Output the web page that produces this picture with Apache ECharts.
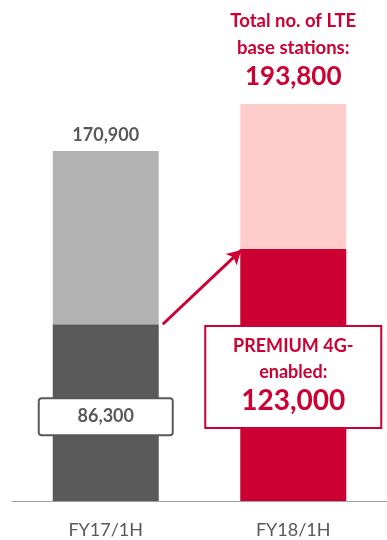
<!DOCTYPE html>
<html><head><meta charset="utf-8">
<script src="https://cdn.jsdelivr.net/npm/echarts@6/dist/echarts.min.js"></script>
<style>html,body{margin:0;padding:0;background:#fff}#c{width:387px;height:540px}</style>
</head><body><div id="c"></div>
<script>
var categories = ['FY17/1H', 'FY18/1H'];
var premiumValues = [86300, 123000];
var totalValues = [170900, 193800];
var remainderValues = totalValues.map(function (t, i) { return t - premiumValues[i]; });

var FONT = 'Lato';
var RED = '#cc0033';
var GRAY_TXT = '#595959';
var BAR_W = 106;

var chart = echarts.init(document.getElementById('c'));
var option = {
  animation: false,
  grid: { left: 12, width: 380, top: 91.4, bottom: 39 },
  xAxis: {
    type: 'category', data: categories,
    axisLine: { lineStyle: { color: '#a0a0a0', width: 1 } },
    axisTick: { show: false },
    axisLabel: { color: GRAY_TXT, fontFamily: FONT, fontSize: 18, margin: 20 }
  },
  yAxis: { type: 'value', min: 0, max: 200000, show: false, splitLine: { show: false } },
  series: [
    {
      name: 'premium', type: 'bar', stack: 's', barWidth: BAR_W,
      data: [
        { value: premiumValues[0], itemStyle: { color: '#5a5a5a' },
          label: { show: true, position: 'inside', offset: [0, 4], formatter: '86,300',
            color: GRAY_TXT, fontFamily: FONT, fontWeight: 'bold', fontSize: 18, lineHeight: 21,
            backgroundColor: '#fff', borderColor: GRAY_TXT, borderWidth: 2, borderRadius: 2,
            width: 132, align: 'center', padding: [7, 0, 7, 0] } },
        { value: premiumValues[1], itemStyle: { color: RED },
          label: { show: true, position: 'inside', offset: [0, 2],
            formatter: '{a|PREMIUM 4G-}\n{a|enabled:}\n{b|123,000}',
            backgroundColor: '#fff', borderColor: RED, borderWidth: 2,
            width: 174, align: 'center', padding: [6, 0, 10, 0],
            rich: {
              a: { color: RED, fontFamily: FONT, fontWeight: 'bold', fontSize: 18, lineHeight: 26, align: 'center' },
              b: { color: RED, fontFamily: FONT, fontWeight: 'bold', fontSize: 28, lineHeight: 32, align: 'center' }
            } } }
      ]
    },
    {
      name: 'rest', type: 'bar', stack: 's', barWidth: BAR_W,
      data: [
        { value: remainderValues[0], itemStyle: { color: '#b3b3b3' },
          label: { show: true, position: 'top', distance: 6, formatter: '170,900',
            color: GRAY_TXT, fontFamily: FONT, fontWeight: 'bold', fontSize: 18, lineHeight: 20 } },
        { value: remainderValues[1], itemStyle: { color: '#ffcccc' },
          label: { show: true, position: 'top', distance: 11,
            formatter: '{t|Total no. of LTE}\n{t|base stations:}\n{n|193,800}',
            rich: {
              t: { color: RED, fontFamily: FONT, fontWeight: 'bold', fontSize: 18.5, lineHeight: 27, align: 'center' },
              n: { color: RED, fontFamily: FONT, fontWeight: 'bold', fontSize: 26, lineHeight: 32, align: 'center' }
            } } }
      ]
    }
  ]
};
chart.setOption(option);

var p0 = chart.convertToPixel({ gridIndex: 0 }, [0, premiumValues[0]]);
var p1 = chart.convertToPixel({ gridIndex: 0 }, [1, premiumValues[1]]);
chart.setOption({
  series: [{}, {
    markLine: {
      silent: true, symbol: ['none', 'arrow'], symbolSize: [12, 14],
      lineStyle: { color: RED, width: 3, type: 'solid' },
      label: { show: false },
      data: [[{ x: p0[0] + BAR_W / 2 + 4, y: p0[1] }, { x: p1[0] - BAR_W / 2 + 1, y: p1[1] + 1 }]]
    }
  }]
});
</script></body></html>
